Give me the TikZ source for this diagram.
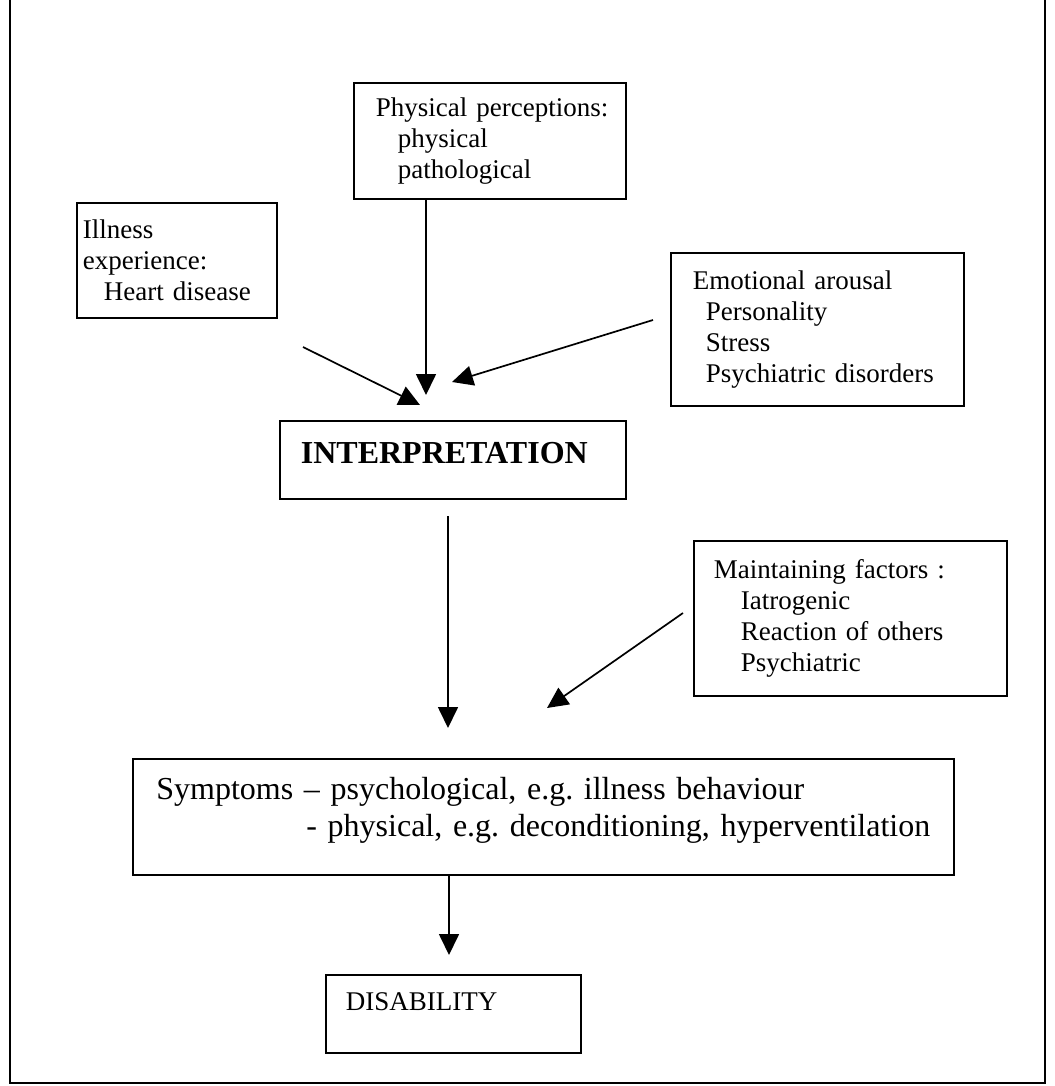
\documentclass[tikz,border=0pt]{standalone}
\usepackage{fontspec}
\setmainfont{Liberation Serif}
\usetikzlibrary{arrows.meta,positioning}
\frenchspacing

\begin{document}
\begin{tikzpicture}[x=1pt, y=-1pt,
        kasten/.style={draw, line width=1.8pt, anchor=north west, align=left, font=\fontsize{27}{31}\selectfont},
        pfeil/.style={line width=1.7pt, -{Triangle[length=21pt,width=20pt]}}]
        % Umgebung
        \useasboundingbox (0,0) rectangle (1054,1086);
        \draw[line width=2.8pt] (10,-5) -- (10,1083) -- (1045,1083) -- (1045,-5);
        
        % Einflussfaktoren
        \node[kasten, minimum width=272pt, minimum height=116pt, text width=250pt, inner xsep=11pt] (phys) at (353,82)
            {\hspace*{11pt}Physical perceptions:\\\hspace*{33pt}physical\\\hspace*{33pt}pathological};
        \node[kasten, minimum width=200pt, minimum height=115pt, text width=188pt, inner xsep=6pt] (ill) at (76,202)
            {Illness\\experience:\\\hspace*{21pt}Heart disease};
        \node[kasten, minimum width=293pt, minimum height=153pt, text width=255pt, inner xsep=19pt] (emo) at (670,252)
            {\hspace*{3pt}Emotional arousal\\\hspace*{16pt}Personality\\\hspace*{16pt}Stress\\\hspace*{16pt}Psychiatric disorders};
        
        % Interpretation
        \node[kasten, font=\fontsize{32}{37}\selectfont\bfseries, minimum width=346pt, minimum height=78pt, text width=304pt, inner xsep=21pt, text depth=14pt] (interp) at (279,420)
            {INTERPRETATION};
        
        % Aufrechterhaltung
        \node[kasten, minimum width=313pt, minimum height=155pt, text width=273pt, inner xsep=20pt] (maint) at (693,540)
            {Maintaining factors :\\\hspace*{27pt}Iatrogenic\\\hspace*{27pt}Reaction of others\\\hspace*{27pt}Psychiatric};
        
        % Symptome und Folge
        \node[kasten, font=\fontsize{32}{37}\selectfont, minimum width=821pt, minimum height=116pt, text width=800pt, inner xsep=10.5pt, text depth=58pt] (symp) at (132,758)
            {\hspace*{13pt}Symptoms \textendash{} psychological, e.g. illness behaviour\\\hspace*{163pt}- physical, e.g. deconditioning, hyperventilation};
        \node[kasten, minimum width=255pt, minimum height=78pt, text width=215pt, inner xsep=20pt, text depth=24pt] (dis) at (325,974)
            {DISABILITY};
        
        % Pfeile
        \coordinate (pSpitze) at (426,395);
        \draw[pfeil] (pSpitze |- phys.south) -- (pSpitze);
        \coordinate (iStart) at (303,347);
        \coordinate (iSpitze) at (420,405);
        \draw[pfeil] (iStart) -- (iSpitze);
        \coordinate (eStart) at (653,320);
        \coordinate (eSpitze) at (452,382);
        \draw[pfeil] (eStart) -- (eSpitze);
        \coordinate (mStart) at (683,613);
        \coordinate (mSpitze) at (547,708);
        \draw[pfeil] (mStart) -- (mSpitze);
        \coordinate (iUnten) at (448,516);
        \coordinate (sSpitze) at (448,728);
        \draw[pfeil] (iUnten) -- (sSpitze);
        \coordinate (dSpitze) at (449,955);
        \draw[pfeil] (dSpitze |- symp.south) -- (dSpitze);
        
    \end{tikzpicture}
\end{document}
